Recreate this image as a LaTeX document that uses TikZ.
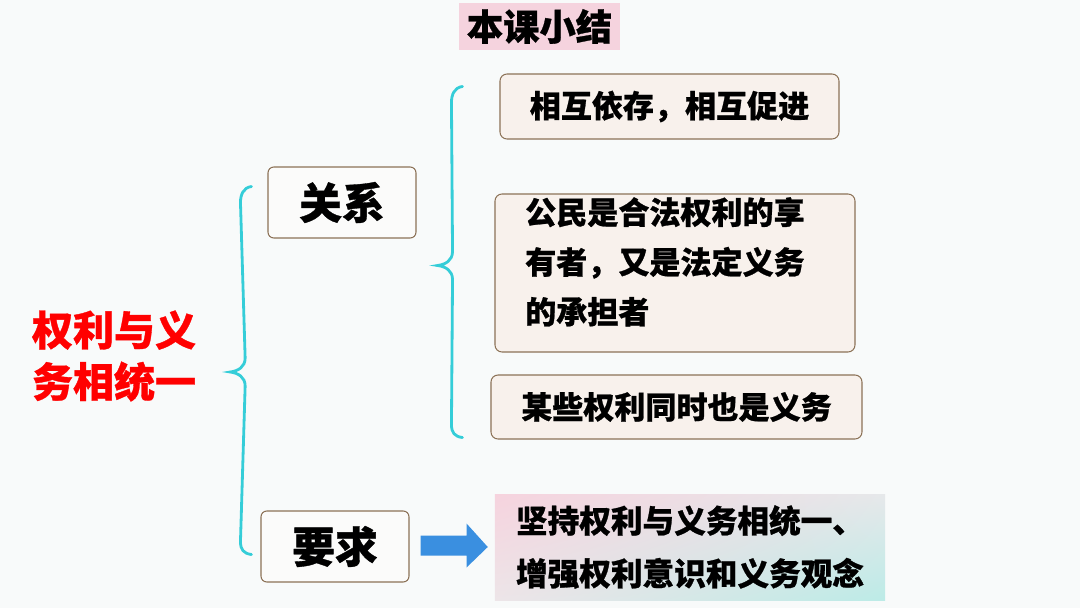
\documentclass[tikz,border=0pt]{standalone}
\usepackage{fontspec}
\setmainfont{Noto Sans CJK SC}[BoldFont=* Black, BoldFeatures={FakeBold=0.8}]
\usetikzlibrary{calc}
\usetikzlibrary{positioning}
\usetikzlibrary{shadings}

\definecolor{bgcol}{HTML}{F8FAFA}
\definecolor{titlepink}{HTML}{F5D3DE}
\definecolor{boxline}{HTML}{8C7257}
\definecolor{boxfill}{HTML}{F8F1EC}
\definecolor{topicfill}{HTML}{FBFBFA}
\definecolor{bracecol}{HTML}{35CDD8}
\definecolor{arrowblue}{HTML}{3A8FE0}
\definecolor{goalpink}{HTML}{F6D3DE}
\definecolor{goalcyan}{HTML}{BCEBE7}
\definecolor{goalgrey}{HTML}{E6E8EA}
\definecolor{goalrose}{HTML}{EDE5E8}

\tikzset{
  titlebox/.style={fill=titlepink, minimum width=4.83cm, minimum height=1.41cm,
    font=\bfseries\fontsize{31}{36}\selectfont},
  rootlabel/.style={align=center, text=red, font=\bfseries\fontsize{35}{44}\selectfont},
  topic/.style={draw=boxline, fill=topicfill, rounded corners=5pt, line width=0.9pt,
    minimum width=4.44cm, minimum height=2.13cm, font=\bfseries\fontsize{36.5}{40}\selectfont},
  item/.style={draw=boxline, fill=boxfill, rounded corners=6pt, line width=0.9pt,
    font=\bfseries\fontsize{26.5}{42.5}\selectfont},
  brace/.style={draw=bracecol, line width=2.4pt, line cap=round},
}

\begin{document}
\begin{tikzpicture}[x=0.03cm,y=-0.03cm]
  \useasboundingbox (0,0) rectangle (1080,608);
  \fill[bgcol] (0,0) rectangle (1080,608);

  \node[titlebox] (title) at (539.5,26.5) {本课小结};

  \node[rootlabel] (root) at (114,356) {权利与义\\务相统一};
  \node[topic] (rel) at (342,202.5) {关系};
  \node[topic] (req) at (335,546.5) {要求};

  \node[item, minimum width=10.17cm, minimum height=1.95cm] (it1) at (669.5,106.5) {相互依存，相互促进};
  \node[item, minimum width=10.8cm, minimum height=4.74cm] (it2) at (675,273) {};
  \node[anchor=north west, inner sep=0pt, align=left,
    font=\bfseries\fontsize{26.5}{42.5}\selectfont] (it2text) at (525,197)
    {公民是合法权利的享\\有者，又是法定义务\\的承担者};
  \node[item, minimum width=11.13cm, minimum height=1.92cm] (it3) at (676.5,407) {某些权利同时也是义务};

  \node[upper left=goalpink, upper right=goalgrey, lower left=goalrose, lower right=goalcyan,
    minimum width=11.7cm, minimum height=3.18cm, align=left,
    font=\bfseries\fontsize{27}{45}\selectfont] (goal) at (690,547)
    {坚持权利与义务相统一、\\增强权利意识和义务观念};

  \coordinate (la) at ($(rel.west)+(-16,-16)$);
  \coordinate (lb) at ($(req.west)+(-9,8)$);
  \coordinate (ltip) at ($(root.east)+(30,16)$);
  \draw[brace] (la) .. controls +(-8,1) and +(0,-8) .. ($(la)+(-11,16)$)
    -- ($(ltip)+(15,-14)$) .. controls +(0,9) and +(8,-1) .. (ltip)
    .. controls +(8,1) and +(0,-9) .. ($(ltip)+(15,14)$)
    -- ($(lb)+(-11,-13)$) .. controls +(0,8) and +(-8,-1) .. (lb);

  \coordinate (ra) at ($(it1.north west)+(-37,13)$);
  \coordinate (rb) at ($(it3.south west)+(-28,-2)$);
  \coordinate (rtip) at ($(rel.east)+(21,63)$);
  \draw[brace] (ra) .. controls +(-8,1) and +(0,-8) .. ($(ra)+(-11,16)$)
    -- ($(rtip)+(15,-14)$) .. controls +(0,9) and +(8,-1) .. (rtip)
    .. controls +(8,1) and +(0,-9) .. ($(rtip)+(15,14)$)
    -- ($(rb)+(-11,-13)$) .. controls +(0,8) and +(-8,-1) .. (rb);

  \fill[arrowblue] ($(req.east)+(11,-11)$) -- ($(req.east)+(57,-11)$)
    -- ($(req.east)+(57,-23)$) -- ($(goal.west)+(-7,0)$)
    -- ($(req.east)+(57,21)$) -- ($(req.east)+(57,9)$)
    -- ($(req.east)+(11,9)$) -- cycle;
\end{tikzpicture}
\end{document}
